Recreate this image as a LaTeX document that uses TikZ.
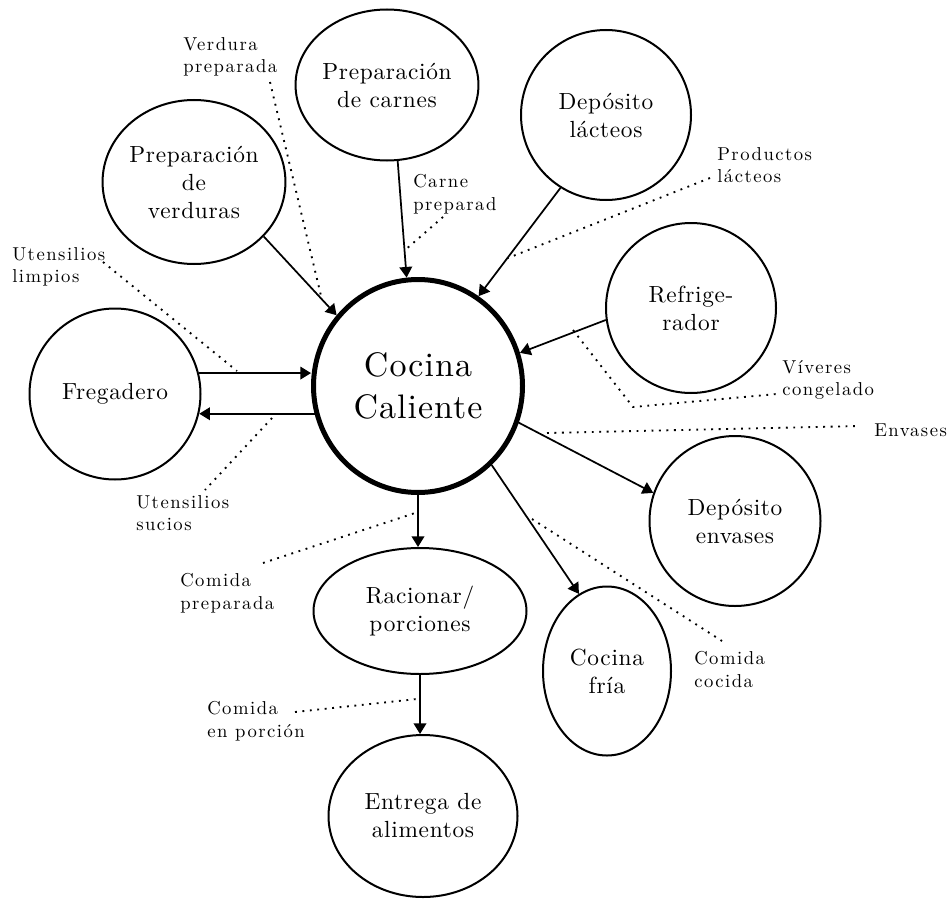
\documentclass[tikz,border=0pt]{standalone}
\usepackage{fontspec}
\usetikzlibrary{shapes.geometric,arrows.meta}
\def\pxu{0.75pt}
\newfontfamily\nodeff{lmroman10-regular.otf}[LetterSpace=3]
\newfontfamily\lblff{lmroman10-regular.otf}[LetterSpace=8]
\newcommand\nodefont{\nodeff\fontsize{17.5}{21}\selectfont}
\newcommand\bigfont{\nodeff\fontsize{25.5}{31}\selectfont}
\newcommand\lblfont{\lblff\fontsize{14}{17}\selectfont}
\tikzset{
  proc/.style={ellipse, draw, line width=1.5pt, inner sep=0pt, align=center, font=\nodefont},
  lbl/.style={anchor=north west, inner sep=0pt, align=left, font=\lblfont},
  arr/.style={line width=1.3pt, -{Triangle[length=8pt,width=9.5pt]}},
  dots/.style={line width=1.4pt, dash pattern=on 1.4pt off 4.2pt}
}
\begin{document}
\begin{tikzpicture}[x=0.75pt,y=-0.75pt]
\useasboundingbox (0,0) rectangle (949,899);
% process nodes
\node[proc, line width=3.75pt, font=\bigfont, minimum width=209*\pxu, minimum height=213*\pxu] (cc) at (418,386) {Cocina\\Caliente};
\node[proc, minimum width=180*\pxu, minimum height=151*\pxu] (carnes) at (387,85) {Preparación\\de carnes};
\node[proc, minimum width=182*\pxu, minimum height=164*\pxu] (verd) at (194,182) {Preparación\\de\\verduras};
\node[proc, minimum width=170*\pxu, minimum height=170*\pxu] (lact) at (606,115) {Depósito\\lácteos};
\node[proc, minimum width=170*\pxu, minimum height=170*\pxu] (refr) at (691,308) {Refrige-\\rador};
\node[proc, minimum width=171*\pxu, minimum height=171*\pxu] (freg) at (115,394) {Fregadero};
\node[proc, minimum width=171*\pxu, minimum height=170*\pxu] (env) at (735,521) {Depósito\\envases};
\node[proc, minimum width=213*\pxu, minimum height=126*\pxu] (rac) at (420,611) {Racionar/\\porciones};
\node[proc, minimum width=128*\pxu, minimum height=169*\pxu] (fria) at (607,671) {Cocina\\fría};
\node[proc, minimum width=189*\pxu, minimum height=162*\pxu] (ent) at (423,816) {Entrega de\\alimentos};
% flows
\draw[arr] (carnes.-82.3) -- (cc.96.3);
\draw[arr] (verd.-38.4) -- (cc.139);
\draw[arr] (lact.-122.6) -- (cc.56.3);
\draw[arr] (refr.188) -- (cc.18.9);
\draw[arr] (freg.14.4) -- (freg.14.4 -| cc.west);
\draw[arr] (cc.195.4) -- (freg.-13.6 |- cc.195.4);
\draw[arr] (cc.south) -- (cc.south |- rac.north);
\draw[arr] (cc.-20.6) -- (env.161.4);
\draw[arr] (cc.-47.5) -- (fria.110.7);
\draw[arr] (rac.south) -- (rac.south |- ent.north);
% labels
\node[lbl] (lverd) at (183,37) {Verdura\\preparada};
\node[lbl] (lcarne) at (413,174) {Carne\\preparad};
\node[lbl] (lprod) at (717,147) {Productos\\lácteos};
\node[lbl] (llimp) at (12,247) {Utensilios\\limpios};
\node[lbl] (lsuc) at (136,495) {Utensilios\\sucios};
\node[lbl] (lviv) at (782,360) {Víveres\\congelado};
\node[lbl] (lenv) at (874,424) {Envases};
\node[lbl] (lcprep) at (180,573) {Comida\\preparada};
\node[lbl] (lcoc) at (694,651) {Comida\\cocida};
\node[lbl] (lpor) at (207,701) {Comida\\en porción};
% dotted leader coordinates
\coordinate (d1a) at (270,82);  \coordinate (d1b) at (322,300);
\coordinate (d2a) at (443,217); \coordinate (d2b) at (404,251);
\coordinate (d3a) at (710,178); \coordinate (d3b) at (508,258);
\coordinate (d4a) at (103,262); \coordinate (d4b) at (237,371);
\coordinate (d5a) at (272,418); \coordinate (d5b) at (205,490);
\coordinate (d6a) at (573,330); \coordinate (d6m) at (633,407); \coordinate (d6b) at (777,394);
\coordinate (d7a) at (547,433); \coordinate (d7b) at (860,426);
\coordinate (d8a) at (263,563); \coordinate (d8b) at (415,513);
\coordinate (d9a) at (532,519); \coordinate (d9b) at (722,641);
\coordinate (d10a) at (295,712); \coordinate (d10b) at (417,699);
\draw[dots] (d1a) -- (d1b);
\draw[dots] (d2a) -- (d2b);
\draw[dots] (d3a) -- (d3b);
\draw[dots] (d4a) -- (d4b);
\draw[dots] (d5a) -- (d5b);
\draw[dots] (d6a) -- (d6m) -- (d6b);
\draw[dots] (d7a) -- (d7b);
\draw[dots] (d8a) -- (d8b);
\draw[dots] (d9a) -- (d9b);
\draw[dots] (d10a) -- (d10b);
\end{tikzpicture}
\end{document}
